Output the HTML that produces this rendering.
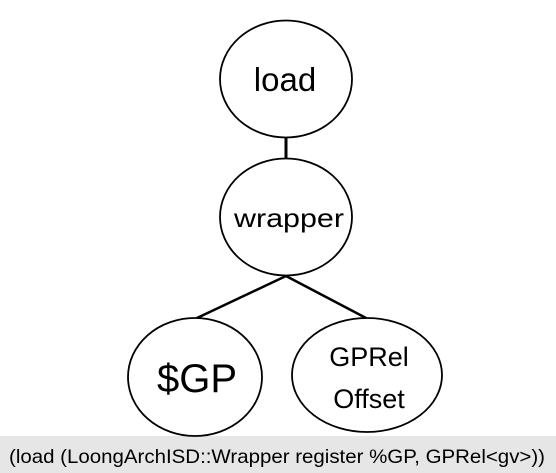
<!DOCTYPE html>
<html><head><style>
html,body{margin:0;padding:0;background:#fff;width:556px;height:473px;overflow:hidden}
</style></head><body>
<svg width="556" height="473" xmlns="http://www.w3.org/2000/svg" style="display:block">
<rect x="0" y="436" width="556" height="37" fill="#e6e6e6"/>
<g stroke="#000" fill="none">
<line x1="286" y1="137" x2="286" y2="158" stroke-width="3"/>
<line x1="286" y1="276" x2="197" y2="318" stroke-width="2.5"/>
<line x1="286" y1="276" x2="366" y2="318" stroke-width="2.5"/>
<ellipse cx="286" cy="79" rx="66" ry="58.5" stroke-width="1.8" fill="#fff"/>
<ellipse cx="286" cy="217" rx="66" ry="58.5" stroke-width="1.8" fill="#fff"/>
<ellipse cx="195" cy="377" rx="67" ry="59" stroke-width="1.8" fill="#fff"/>
<ellipse cx="367" cy="375" rx="75" ry="57" stroke-width="1.8" fill="#fff"/>
</g>
<g font-family="Liberation Sans, sans-serif" fill="#000" text-anchor="middle">
<text x="285" y="91" font-size="33">load</text>
<text x="289" y="227" font-size="26" textLength="110" lengthAdjust="spacingAndGlyphs">wrapper</text>
<text x="197" y="392" font-size="40">$GP</text>
<text x="369" y="366" font-size="27">GPRel</text>
<text x="369" y="408" font-size="27">Offset</text>
<text x="277" y="463" font-size="19.5" textLength="536" lengthAdjust="spacingAndGlyphs">(load (LoongArchISD::Wrapper register %GP, GPRel&lt;gv&gt;))</text>
</g>
</svg>
</body></html>
